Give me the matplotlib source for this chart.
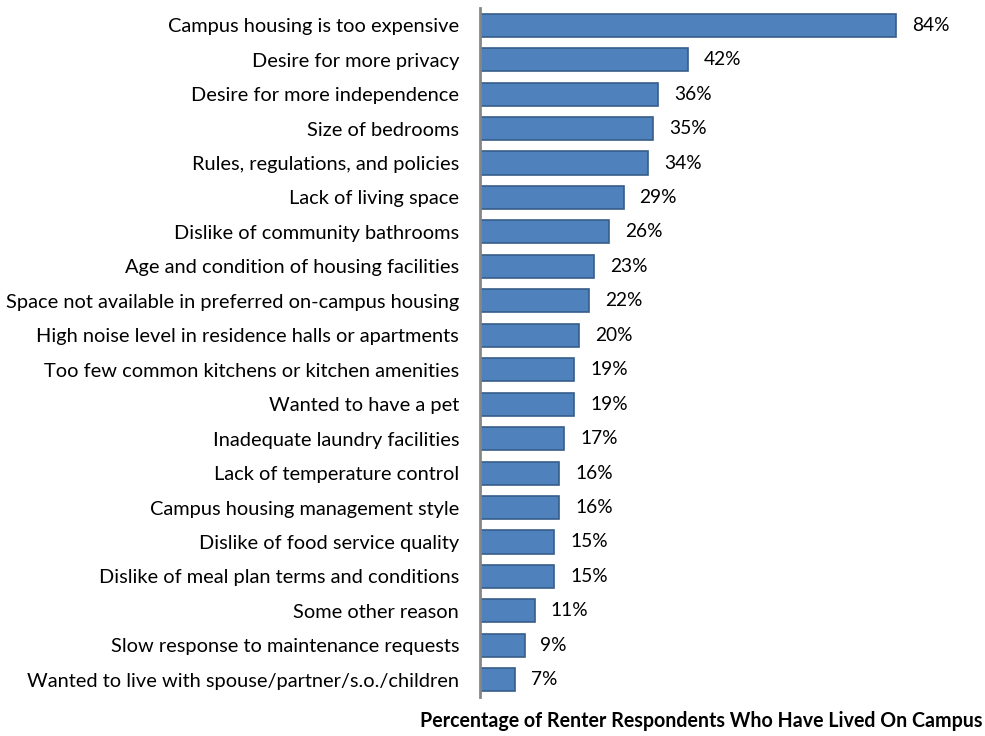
import matplotlib
matplotlib.use("Agg")
import matplotlib.pyplot as plt
from matplotlib.ticker import NullLocator

categories = [
    "Campus housing is too expensive",
    "Desire for more privacy",
    "Desire for more independence",
    "Size of bedrooms",
    "Rules, regulations, and policies",
    "Lack of living space",
    "Dislike of community bathrooms",
    "Age and condition of housing facilities",
    "Space not available in preferred on-campus housing",
    "High noise level in residence halls or apartments",
    "Too few common kitchens or kitchen amenities",
    "Wanted to have a pet",
    "Inadequate laundry facilities",
    "Lack of temperature control",
    "Campus housing management style",
    "Dislike of food service quality",
    "Dislike of meal plan terms and conditions",
    "Some other reason",
    "Slow response to maintenance requests",
    "Wanted to live with spouse/partner/s.o./children",
]
percentages = [84, 42, 36, 35, 34, 29, 26, 23, 22, 20, 19, 19, 17, 16, 16, 15, 15, 11, 9, 7]
x_title = "Percentage of Renter Respondents Who Have Lived On Campus"

plt.rcParams["font.family"] = ["Lato", "DejaVu Sans"]

W, H = 985, 736
fig = plt.figure(figsize=(W / 100, H / 100), dpi=100)
ax = fig.add_axes([480 / W, 1 - 697 / H, (926 - 480) / W, (697 - 8) / H])

n = len(categories)
ypos = list(range(n))
ax.barh(ypos, percentages, height=0.67, color="#4F81BD", edgecolor="#385D8A",
        linewidth=1.2, zorder=2)
ax.set_ylim(n - 0.5, -0.5)
ax.set_xlim(0, 90)

ax.set_yticks(ypos)
ax.set_yticklabels(categories, fontsize=14.4, color="#000000")
ax.tick_params(axis="y", length=0, pad=15)
ax.xaxis.set_major_locator(NullLocator())

for side in ("top", "right", "bottom"):
    ax.spines[side].set_visible(False)
ax.spines["left"].set_color("#868686")
ax.spines["left"].set_linewidth(2)
ax.spines["left"].set_zorder(3)

for y, v in zip(ypos, percentages):
    ax.text(v + 3.2, y, f"{v}%", va="center", ha="left", fontsize=13.8, color="#000000")

fig.text(983 / W, 1 - 721 / H, x_title, ha="right", va="center",
         fontsize=14.1, fontweight="bold", color="#000000")

fig.savefig("out.png", dpi=100, facecolor="white")
